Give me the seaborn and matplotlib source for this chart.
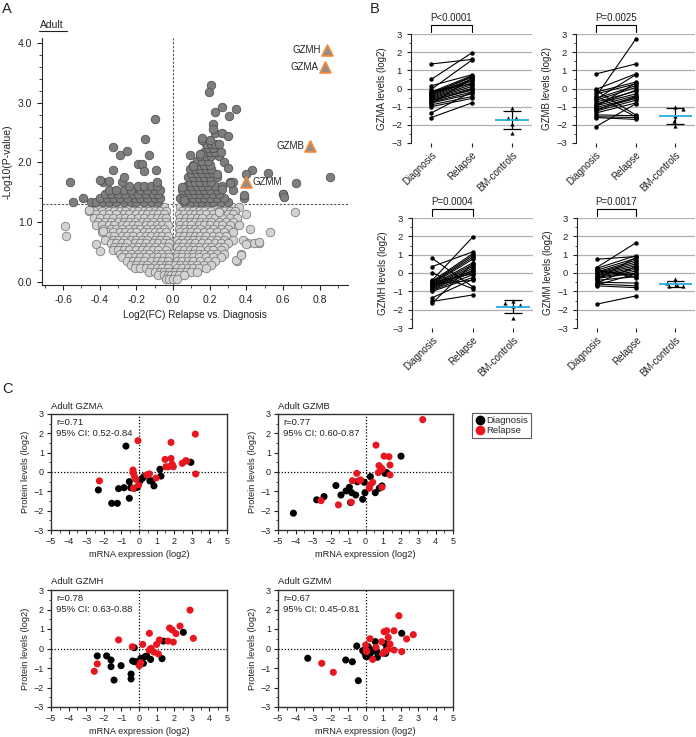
import numpy as np
import pandas as pd
import matplotlib
matplotlib.use("Agg")
import matplotlib.pyplot as plt
import seaborn as sns
from matplotlib.lines import Line2D
from matplotlib.ticker import MultipleLocator

# ============================
# Panel A data (volcano)
# ============================

# rows of the dense non-significant cloud: one y level per row
cloud_y = [1.25, 1.19, 1.13, 1.07, 1.01, 0.95, 0.89, 0.83, 0.77, 0.71, 0.65,
           0.59, 0.53, 0.47, 0.41, 0.35, 0.29, 0.23, 0.17, 0.11, 0.05]
cloud_left_x = [
    [-0.44, -0.41, -0.37, -0.34, -0.31, -0.28, -0.24, -0.21, -0.18, -0.15, -0.11, -0.08, -0.05],
    [-0.46, -0.43, -0.39, -0.35, -0.32, -0.29, -0.26, -0.22, -0.19, -0.16, -0.13, -0.10, -0.07, -0.04],
    [-0.42, -0.38, -0.35, -0.31, -0.27, -0.24, -0.20, -0.17, -0.14, -0.11, -0.08, -0.05],
    [-0.43, -0.40, -0.36, -0.33, -0.29, -0.26, -0.23, -0.19, -0.16, -0.12, -0.09, -0.06, -0.04],
    [-0.41, -0.37, -0.34, -0.30, -0.27, -0.24, -0.21, -0.17, -0.14, -0.11, -0.07, -0.04],
    [-0.42, -0.39, -0.35, -0.32, -0.28, -0.25, -0.22, -0.19, -0.15, -0.12, -0.09, -0.06, -0.03],
    [-0.38, -0.34, -0.31, -0.28, -0.24, -0.21, -0.18, -0.14, -0.11, -0.08, -0.05],
    [-0.39, -0.36, -0.33, -0.29, -0.26, -0.23, -0.20, -0.16, -0.13, -0.10, -0.07, -0.04],
    [-0.35, -0.32, -0.28, -0.25, -0.22, -0.18, -0.15, -0.12, -0.09, -0.06, -0.03],
    [-0.37, -0.33, -0.30, -0.27, -0.23, -0.20, -0.17, -0.14, -0.10, -0.07, -0.04],
    [-0.34, -0.31, -0.28, -0.25, -0.21, -0.18, -0.15, -0.11, -0.08, -0.05, -0.02],
    [-0.32, -0.29, -0.26, -0.22, -0.19, -0.16, -0.13, -0.10, -0.06, -0.03],
    [-0.33, -0.30, -0.27, -0.24, -0.20, -0.17, -0.14, -0.11, -0.08, -0.04],
    [-0.29, -0.26, -0.23, -0.19, -0.16, -0.13, -0.09, -0.06, -0.03],
    [-0.28, -0.24, -0.21, -0.18, -0.15, -0.11, -0.08, -0.05, -0.02],
    [-0.25, -0.22, -0.19, -0.16, -0.12, -0.09, -0.06, -0.03],
    [-0.23, -0.20, -0.17, -0.14, -0.10, -0.07, -0.04, -0.02],
    [-0.21, -0.18, -0.15, -0.12, -0.09, -0.06, -0.03],
    [-0.13, -0.10, -0.07, -0.05, -0.02],
    [-0.08, -0.05, -0.03, -0.01],
    [-0.04, -0.02, 0.00],
]
cloud_right_x = [
    [0.04, 0.07, 0.10, 0.13, 0.16, 0.19, 0.22, 0.26, 0.29, 0.32, 0.36],
    [0.05, 0.08, 0.11, 0.14, 0.17, 0.21, 0.25, 0.28, 0.31, 0.34],
    [0.03, 0.06, 0.09, 0.12, 0.15, 0.18, 0.22, 0.26, 0.30, 0.33, 0.40],
    [0.04, 0.07, 0.10, 0.13, 0.16, 0.20, 0.23, 0.27, 0.31, 0.35],
    [0.03, 0.06, 0.09, 0.12, 0.15, 0.18, 0.21, 0.25, 0.29, 0.33],
    [0.04, 0.07, 0.10, 0.14, 0.17, 0.20, 0.24, 0.27, 0.31, 0.36],
    [0.03, 0.06, 0.09, 0.12, 0.15, 0.19, 0.22, 0.26, 0.30, 0.42],
    [0.04, 0.07, 0.10, 0.13, 0.17, 0.20, 0.24, 0.28, 0.33, 0.53],
    [0.03, 0.06, 0.09, 0.12, 0.15, 0.18, 0.22, 0.25, 0.29],
    [0.02, 0.05, 0.08, 0.11, 0.14, 0.17, 0.21, 0.24, 0.28, 0.33, 0.38],
    [0.03, 0.06, 0.09, 0.12, 0.16, 0.19, 0.23, 0.26, 0.30, 0.41, 0.47],
    [0.02, 0.05, 0.08, 0.11, 0.14, 0.18, 0.21, 0.25, 0.28],
    [0.03, 0.06, 0.09, 0.12, 0.15, 0.19, 0.22, 0.26],
    [0.02, 0.05, 0.08, 0.11, 0.14, 0.17, 0.21, 0.24, 0.28, 0.37],
    [0.02, 0.05, 0.08, 0.11, 0.14, 0.18, 0.22, 0.26],
    [0.02, 0.05, 0.08, 0.11, 0.15, 0.19, 0.23, 0.35],
    [0.01, 0.04, 0.07, 0.10, 0.13, 0.17, 0.21],
    [0.02, 0.05, 0.08, 0.11, 0.14, 0.18],
    [0.01, 0.04, 0.07, 0.10, 0.13],
    [0.01, 0.03, 0.06],
    [0.02],
]
cloud_extra_x = [-0.59, -0.585, -0.46, -0.42, -0.40, -0.38, 0.25, 0.665, 0.44, 0.47, 0.40, 0.345, 0.37]
cloud_extra_y = [0.93, 0.77, 1.21, 0.64, 0.52, 0.85, 1.17, 1.17, 0.66, 0.67, 0.64, 0.37, 0.45]

# rows of the significant (dark) points
sig_y = [1.33, 1.40, 1.47, 1.54, 1.61, 1.68, 1.75, 1.82, 1.89, 1.96, 2.03, 2.10, 2.17, 2.24, 2.31, 2.38]
sig_row_x = [
    [-0.45, -0.42, -0.38, -0.35, -0.31, -0.27, -0.23, -0.20, -0.16, -0.12, -0.08,
     0.06, 0.10, 0.13, 0.16, 0.19, 0.22, 0.26, 0.30],
    [-0.40, -0.36, -0.33, -0.29, -0.25, -0.21, -0.18, -0.14, -0.10, -0.07,
     0.04, 0.08, 0.11, 0.14, 0.17, 0.20, 0.24, 0.28, 0.39],
    [-0.37, -0.34, -0.30, -0.26, -0.22, -0.19, -0.15, -0.11, -0.08,
     0.06, 0.09, 0.12, 0.15, 0.18, 0.22, 0.25, 0.60],
    [-0.35, -0.31, -0.27, -0.23, -0.18, -0.14, -0.10, -0.07,
     0.05, 0.08, 0.11, 0.14, 0.17, 0.20, 0.24, 0.33],
    [-0.24, -0.19, -0.16, -0.12, -0.09, 0.07, 0.10, 0.13, 0.16, 0.19, 0.23, 0.27],
    [-0.38, -0.28, -0.09, 0.09, 0.12, 0.15, 0.18, 0.21, 0.31, 0.33],
    [0.08, 0.11, 0.14, 0.17, 0.20, 0.24],
    [0.10, 0.13, 0.16, 0.19, 0.22],
    [0.09, 0.12, 0.15, 0.18, 0.21],
    [0.11, 0.14, 0.17, 0.20],
    [0.13, 0.16, 0.19],
    [0.15, 0.18, 0.21, 0.25],
    [0.17, 0.20, 0.23],
    [0.19, 0.22],
    [0.18, 0.21, 0.23],
    [0.16, 0.20],
]
sig_extra_x = [-0.56, -0.545, -0.49, -0.40, -0.35, -0.33, -0.33, -0.29, -0.27, -0.25, -0.19, -0.17,
               -0.155, -0.16, -0.13, -0.10, -0.095, 0.205, 0.196, 0.27, 0.227, 0.345, 0.305, 0.218,
               0.227, 0.27, 0.30, 0.156, 0.095, 0.145, 0.11, 0.43, 0.40, 0.52, 0.67, 0.855, 0.60,
               0.605, 0.39, 0.31, 0.05, 0.058, 0.22, 0.25, 0.26, 0.28, 0.30, 0.24, 0.27]
sig_extra_y = [1.68, 1.33, 1.40, 1.70, 1.69, 2.26, 1.87, 2.12, 1.76, 2.19, 1.98, 1.97,
               2.39, 1.85, 2.12, 2.72, 1.87, 3.30, 3.18, 2.93, 2.85, 2.90, 2.78, 2.64,
               2.49, 2.49, 2.44, 2.40, 2.12, 2.14, 1.94, 1.87, 1.80, 1.83, 1.65, 1.76, 1.47,
               1.42, 1.45, 1.66, 1.59, 1.37, 2.56, 2.30, 2.18, 2.00, 1.90, 1.80, 1.55]

gzm_names = ["GZMH", "GZMA", "GZMB", "GZMM"]
gzm_fc = [0.84, 0.83, 0.75, 0.40]
gzm_p = [3.88, 3.59, 2.28, 1.68]

# ============================
# Panel B data (paired levels)
# ============================

gzma_diag = [1.35, 0.50, 0.15, -0.05, -0.20, -0.25, -0.30, -0.35, -0.40, -0.45, -0.50, -0.55,
             -0.60, -0.65, -0.75, -0.80, -0.85, -0.90, -1.00, -1.35, -1.60, -0.30, -0.15, -0.70]
gzma_rel = [1.60, 1.95, 0.75, 1.55, 0.70, 0.60, 0.50, 0.45, 0.40, 0.30, 0.20, 0.10,
            0.00, -0.10, -0.20, -0.30, 0.55, -0.45, -0.55, -0.20, -0.80, 0.65, 0.25, -0.05]
gzma_ctrl = [-1.10, -1.62, -1.60, -1.95, -2.45]
gzma_jit = [0.0, -0.09, 0.11, 0.0, 0.0]

gzmb_diag = [0.80, -0.05, -0.10, -0.20, -0.30, -0.45, -0.55, -0.65, -0.75, -0.85, -0.95, -1.05,
             -1.15, -1.25, -1.35, -1.45, -1.55, -1.60, -2.10, -0.60, -0.90, -1.00, -0.40, -1.20]
gzmb_rel = [1.35, 0.80, -1.45, 0.35, 0.25, 2.70, 0.15, 0.05, -0.15, -0.30, -0.40, -0.50,
            -0.55, -0.65, -0.80, -1.50, -1.60, -1.70, -0.85, 0.75, -0.10, 0.30, -1.55, -0.45]
gzmb_ctrl = [-1.00, -1.15, -1.50, -1.80, -2.05]
gzmb_jit = [0.0, 0.2, 0.0, -0.03, 0.0]

gzmh_diag = [0.80, 0.35, 0.00, -0.40, -0.45, -0.50, -0.55, -0.60, -0.65, -0.70, -0.75,
             -0.80, -0.85, -0.90, -0.95, -1.00, -1.35, -1.55, -1.65, -0.50, -0.70, -0.60]
gzmh_rel = [-0.75, 1.15, -0.85, 1.95, 1.05, 0.95, 0.85, 0.75, 0.55, 0.45, 0.35,
            0.25, 0.15, 0.05, -0.10, -0.25, -0.35, -1.20, 0.50, -0.05, 0.10, -0.40]
gzmh_ctrl = [-1.55, -1.65, -1.72, -1.80, -2.43]
gzmh_jit = [0.0, -0.2, 0.18, 0.0, 0.0]

gzmm_diag = [0.75, 0.30, 0.25, 0.15, 0.05, 0.00, -0.05, -0.10, -0.15, -0.20, -0.25,
             -0.30, -0.40, -0.50, -0.60, -0.70, -1.70, 0.10, -0.35, -0.55, 0.20, -0.65]
gzmm_rel = [0.90, 1.65, 0.95, 0.80, 0.70, 0.60, 0.50, 0.40, 0.30, 0.20, 0.10,
            0.00, -0.20, -0.55, -0.70, -0.80, -1.25, -0.10, 0.85, 0.35, -0.25, -0.05]
gzmm_ctrl = [-0.35, -0.55, -0.65, -0.70, -0.70]
gzmm_jit = [0.0, -0.2, 0.05, -0.15, 0.2]

b_groups = ["Diagnosis", "Relapse", "BM-controls"]

# ============================
# Panel C data (mRNA vs protein)
# ============================

gzma_dx = [-0.74, -2.31, -1.55, -1.23, -1.16, -0.85, -0.55, -0.55, -0.47, -0.27, -0.09, 0.06, 0.19,
           0.28, 0.62, 0.74, 0.85, 1.19, 1.25, 2.95]
gzma_dy = [1.34, -0.93, -1.62, -1.62, -0.86, -0.81, -0.50, -1.36, -0.81, -0.84, -0.79, -0.46, -0.33,
           -0.24, -0.46, -0.46, -0.72, 0.14, -0.21, 0.50]
gzma_rx = [-2.25, -0.06, -0.34, -0.34, -0.27, -0.17, -0.32, -0.02, 0.44, 0.59, 0.97, 1.48, 1.53,
           1.67, 1.82, 1.82, 1.89, 1.95, 2.46, 2.65, 2.71, 3.20, 3.22]
gzma_ry = [-0.46, 1.62, 0.10, -0.03, -0.21, -0.38, -0.84, -0.67, -0.15, -0.10, -0.31, 0.65, 0.27,
           0.27, 1.53, 0.70, 0.40, 0.27, 0.45, 0.58, 0.57, 1.96, -0.10]

gzmb_dx = [-4.12, -2.79, -2.37, -1.69, -1.40, -1.11, -0.92, -0.85, -0.79, -0.56, -0.47, -0.16, -0.07,
           -0.03, 0.28, 0.56, 0.79, 0.94, 1.11, 1.21, 2.03]
gzmb_dy = [-2.13, -1.44, -1.27, -0.70, -1.19, -0.98, -0.79, -1.58, -1.07, -1.19, -0.50, -1.41, -0.53,
           -1.07, -0.24, -1.07, -0.84, -0.72, -0.07, -0.03, 0.82]
gzmb_rx = [-1.55, -2.54, -0.81, -0.75, -0.35, -0.28, -0.50, 0.22, 0.26, 0.41, 0.60, 0.73, 0.77,
           0.89, 0.96, 1.06, 1.34, 1.40, 1.40, 0.94, 3.27]
gzmb_ry = [-1.70, -1.48, -1.56, -0.45, -0.45, -0.41, -0.07, -0.84, -0.67, -0.53, 1.39, -0.03, 0.33,
           0.21, 0.14, 0.82, 0.79, 0.36, -0.15, -0.79, 2.71]

gzmh_dx = [-2.37, -1.84, -1.59, -1.59, -1.42, -1.02, -0.45, -0.45, -0.36, -0.27, -0.23, -0.13, 0.11,
           0.25, 0.34, 0.44, 0.66, 1.31, 1.38, 2.52]
gzmh_dy = [-0.38, -0.38, -0.59, -0.93, -1.62, -0.88, -1.31, -1.56, -0.64, 0.04, -0.68, -0.68, -0.50,
           -0.76, -0.42, -0.38, -0.56, -0.52, 0.38, 0.83]
gzmh_rx = [-2.54, -2.37, -1.16, -0.38, 0.02, 0.09, 0.21, 0.59, 0.59, 0.68, 0.85, 1.00, 1.10,
           1.16, 1.65, 1.74, 1.89, 1.95, 2.10, 2.33, 2.90, 3.09]
gzmh_ry = [-1.17, -0.79, 0.44, 0.09, -0.88, -0.73, 0.21, 0.78, -0.08, 0.01, -0.18, 0.21, -0.28,
           0.44, 0.38, 1.05, 0.95, 0.33, 0.76, 1.15, 1.97, 0.52]

gzmm_dx = [-3.30, -1.13, -0.75, -0.41, -0.50, -0.16, -0.03, 0.07, 0.16, 0.22, 0.31, 0.45, 0.56,
           0.64, 0.68, 1.11, 1.21, 1.15, 2.07, 0.02, -0.08]
gzmm_dy = [-0.50, -0.59, -0.68, -1.65, 0.13, -0.11, -0.25, -0.42, 0.09, -0.33, -0.21, -0.08, 0.35,
           -0.16, -0.45, 0.26, 0.01, -0.25, 0.78, -0.40, -0.12]
gzmm_rx = [-2.50, -1.84, 0.01, 0.03, 0.07, 0.26, 0.41, 0.60, 0.92, 0.98, 1.06, 1.11, 1.21,
           1.30, 1.30, 1.40, 1.63, 1.63, 1.91, 2.07, 2.35, 2.73]
gzmm_ry = [-0.76, -1.22, 0.18, -0.08, -0.16, 0.50, -0.56, 0.06, 0.35, -0.25, 0.86, -0.16, 0.91,
           0.57, -0.04, 0.23, 0.91, -0.08, 1.68, -0.16, 0.49, 0.71]

c_titles = ["Adult GZMA", "Adult GZMB", "Adult GZMH", "Adult GZMM"]
c_r = ["r=0.71", "r=0.77", "r=0.78", "r=0.67"]
c_ci = ["95% CI: 0.52-0.84", "95% CI: 0.60-0.87", "95% CI: 0.63-0.88", "95% CI: 0.45-0.81"]

# ============================
# Style
# ============================

sns.set_style("ticks")
plt.rcParams["font.family"] = ["Liberation Sans", "DejaVu Sans"]
plt.rcParams["axes.linewidth"] = 0.8
plt.rcParams["xtick.major.width"] = 0.8
plt.rcParams["ytick.major.width"] = 0.8
plt.rcParams["xtick.minor.width"] = 0.6
plt.rcParams["ytick.minor.width"] = 0.6

W, H = 696, 737
fig = plt.figure(figsize=(W / 100, H / 100), dpi=100)
TXT = "#222222"
RED = "#e8171f"


def px_axes(left, top, right, bottom):
    return fig.add_axes([left / W, 1 - bottom / H, (right - left) / W, (bottom - top) / H])


# ============================
# Panel A
# ============================

axA = px_axes(42, 38, 348, 285)

light_x, light_y = [], []
for yv, lx, rx in zip(cloud_y, cloud_left_x, cloud_right_x):
    for xv in lx + rx:
        light_x.append(xv)
        light_y.append(yv)
light_x += cloud_extra_x
light_y += cloud_extra_y

dark_x, dark_y = [], []
for yv, row in zip(sig_y, sig_row_x):
    for xv in row:
        dark_x.append(xv)
        dark_y.append(yv)
dark_x += sig_extra_x
dark_y += sig_extra_y

light_df = pd.DataFrame({"fc": light_x, "p": light_y})
dark_df = pd.DataFrame({"fc": dark_x, "p": dark_y})

sns.scatterplot(data=light_df, x="fc", y="p", s=38, color="#d2d2d2",
                edgecolor="#767676", linewidth=0.55, ax=axA, zorder=2)
sns.scatterplot(data=dark_df, x="fc", y="p", s=38, color="#7e7e7e",
                edgecolor="#4e4e4e", linewidth=0.55, ax=axA, zorder=3)

gzm_df = pd.DataFrame({"fc": gzm_fc, "p": gzm_p})
sns.scatterplot(data=gzm_df, x="fc", y="p", s=60, marker="^", color="#8f8f8f",
                edgecolor="#f4863a", linewidth=1.3, ax=axA, zorder=4)
for name, xv, yv in zip(gzm_names, gzm_fc, gzm_p):
    if name == "GZMM":
        axA.text(xv + 0.035, yv, name, ha="left", va="center", fontsize=7, color=TXT)
    else:
        axA.text(xv - 0.035, yv, name, ha="right", va="center", fontsize=7, color=TXT)

axA.axhline(1.3, color="#555555", lw=0.8, ls=(0, (2, 1.5)), zorder=1)
axA.axvline(0, color="#555555", lw=0.8, ls=(0, (2, 1.5)), zorder=1)

axA.set_xlim(-0.715, 0.955)
axA.set_ylim(-0.05, 4.08)
xt = [-0.6, -0.4, -0.2, 0.0, 0.2, 0.4, 0.6, 0.8]
axA.set_xticks(xt)
axA.set_xticklabels([f"{v:.1f}" for v in xt])
yt = [0.0, 1.0, 2.0, 3.0, 4.0]
axA.set_yticks(yt)
axA.set_yticklabels([f"{v:.1f}" for v in yt])
axA.xaxis.set_minor_locator(MultipleLocator(0.1))
axA.yaxis.set_minor_locator(MultipleLocator(0.2))
axA.tick_params(which="major", length=3.5, labelsize=7.5, colors=TXT)
axA.tick_params(which="minor", length=2)
axA.set_xlabel("Log2(FC) Relapse vs. Diagnosis", fontsize=7.2, color=TXT, labelpad=4)
axA.set_ylabel("-Log10(P-value)", fontsize=7.5, color=TXT, labelpad=4)
sns.despine(ax=axA)

fig.text(40 / W, 1 - 28 / H, "Adult", fontsize=7.5, color=TXT, va="baseline")
fig.add_artist(Line2D([39 / W, 67 / W], [1 - 30.5 / H, 1 - 30.5 / H], color=TXT, lw=0.8))

# ============================
# Panel B
# ============================


def paired_panel(ax, diag, rel, ctrl, jit, ylabel, ptext):
    n = len(diag)
    long_df = pd.DataFrame({
        "subject": list(range(n)) * 2,
        "pos": [0] * n + [1] * n,
        "level": diag + rel,
    })
    for yv in [-2, -1, 0, 1, 2, 3]:
        ax.axhline(yv, color="#b0b0b0", lw=0.9, zorder=0)
    sns.lineplot(data=long_df, x="pos", y="level", units="subject", estimator=None,
                 color="black", lw=0.8, marker="o", markersize=3.2, markeredgewidth=0,
                 ax=ax, legend=False, zorder=3)
    ctrl_df = pd.DataFrame({"pos": [2 + j for j in jit], "level": ctrl})
    sns.scatterplot(data=ctrl_df, x="pos", y="level", marker="^", color="black",
                    s=9, linewidth=0, ax=ax, zorder=4)
    m = np.mean(ctrl)
    sd = np.std(ctrl, ddof=1)
    ax.vlines(2, m - sd, m + sd, color="black", lw=0.9, zorder=3)
    ax.hlines([m - sd, m + sd], 1.78, 2.22, color="black", lw=0.9, zorder=3)
    ax.hlines(m, 1.58, 2.42, color="#29abe2", lw=1.3, zorder=5)

    ax.plot([0, 0, 1, 1], [3.12, 3.5, 3.5, 3.12], color="black", lw=0.8, clip_on=False)
    ax.text(0.5, 3.62, ptext, ha="center", va="bottom", fontsize=7, color=TXT)

    ax.set_xlim(-0.5, 2.5)
    ax.set_ylim(-3, 3)
    ax.set_yticks([-3, -2, -1, 0, 1, 2, 3])
    ax.yaxis.set_minor_locator(MultipleLocator(0.5))
    ax.set_xticks([0, 1, 2])
    ax.set_xticklabels(b_groups, rotation=45, ha="right", va="top", rotation_mode="anchor")
    ax.tick_params(which="major", length=3, labelsize=6.8, colors=TXT)
    ax.tick_params(which="minor", length=1.8)
    ax.tick_params(axis="x", pad=2, labelsize=7)
    ax.set_xlabel("")
    ax.set_ylabel(ylabel, fontsize=7, color=TXT, labelpad=3)
    for side in ["top", "right", "bottom"]:
        ax.spines[side].set_visible(False)


axB1 = px_axes(411, 34, 532, 143)
axB2 = px_axes(576, 34, 695, 143)
axB3 = px_axes(412, 218, 533, 328)
axB4 = px_axes(577, 218, 695, 328)

paired_panel(axB1, gzma_diag, gzma_rel, gzma_ctrl, gzma_jit, "GZMA levels (log2)", "P<0.0001")
paired_panel(axB2, gzmb_diag, gzmb_rel, gzmb_ctrl, gzmb_jit, "GZMB levels (log2)", "P=0.0025")
paired_panel(axB3, gzmh_diag, gzmh_rel, gzmh_ctrl, gzmh_jit, "GZMH levels (log2)", "P=0.0004")
paired_panel(axB4, gzmm_diag, gzmm_rel, gzmm_ctrl, gzmm_jit, "GZMM levels (log2)", "P=0.0017")

# ============================
# Panel C
# ============================


def corr_panel(ax, dx, dy, rx, ry, title, rtext, citext):
    df = pd.DataFrame({
        "mrna": dx + rx,
        "protein": dy + ry,
        "time": ["Diagnosis"] * len(dx) + ["Relapse"] * len(rx),
    })
    sns.scatterplot(data=df, x="mrna", y="protein", hue="time",
                    palette={"Diagnosis": "black", "Relapse": RED},
                    s=26, linewidth=0, ax=ax, legend=False, zorder=3)
    ax.axhline(0, color="black", lw=0.9, ls=(0, (1, 1.5)), zorder=1)
    ax.axvline(0, color="black", lw=0.9, ls=(0, (1, 1.5)), zorder=1)
    ax.set_xlim(-5, 5)
    ax.set_ylim(-3, 3)
    ax.set_xticks(range(-5, 6))
    ax.set_yticks(range(-3, 4))
    ax.xaxis.set_minor_locator(MultipleLocator(0.5))
    ax.yaxis.set_minor_locator(MultipleLocator(0.5))
    ax.tick_params(which="major", length=3, labelsize=6.5, colors=TXT, pad=2)
    ax.tick_params(which="minor", length=1.8)
    ax.set_xlabel("mRNA expression (log2)", fontsize=6.7, color=TXT, labelpad=3)
    ax.set_ylabel("Protein levels (log2)", fontsize=6.7, color=TXT, labelpad=3)
    ax.text(0.0, 1.03, title, transform=ax.transAxes, ha="left", va="bottom",
            fontsize=6.8, color=TXT)
    ax.text(0.03, 0.93, rtext, transform=ax.transAxes, ha="left", va="center",
            fontsize=6.8, color=TXT)
    ax.text(0.03, 0.835, citext, transform=ax.transAxes, ha="left", va="center",
            fontsize=6.8, color=TXT)
    for sp in ax.spines.values():
        sp.set_linewidth(1.0)
        sp.set_color("#333333")


axC1 = px_axes(51, 414, 227, 530)
axC2 = px_axes(278, 414, 453, 530)
axC3 = px_axes(51, 590, 227, 707)
axC4 = px_axes(278, 590, 453, 707)

corr_panel(axC1, gzma_dx, gzma_dy, gzma_rx, gzma_ry, c_titles[0], c_r[0], c_ci[0])
corr_panel(axC2, gzmb_dx, gzmb_dy, gzmb_rx, gzmb_ry, c_titles[1], c_r[1], c_ci[1])
corr_panel(axC3, gzmh_dx, gzmh_dy, gzmh_rx, gzmh_ry, c_titles[2], c_r[2], c_ci[2])
corr_panel(axC4, gzmm_dx, gzmm_dy, gzmm_rx, gzmm_ry, c_titles[3], c_r[3], c_ci[3])

handles = [
    Line2D([], [], marker="o", color="black", ls="", markersize=6),
    Line2D([], [], marker="o", color=RED, ls="", markersize=6),
]
leg = fig.legend(handles, ["Diagnosis", "Relapse"], loc="upper left",
                 bbox_to_anchor=(472 / W, 1 - 413 / H), frameon=True, fancybox=False,
                 fontsize=6.8, handletextpad=0.2, borderpad=0.3, labelspacing=0.15,
                 handlelength=1.0, borderaxespad=0)
leg.get_frame().set_edgecolor("#333333")
leg.get_frame().set_linewidth(0.8)

# ============================
# Panel letters
# ============================

fig.text(2 / W, 1 - 2 / H, "A", fontsize=10.5, va="top", ha="left", color=TXT)
fig.text(370 / W, 1 - 2 / H, "B", fontsize=10.5, va="top", ha="left", color=TXT)
fig.text(2 / W, 1 - 382 / H, "C", fontsize=10.5, va="top", ha="left", color=TXT)

fig.savefig("out.png", dpi=100)
plt.close(fig)
